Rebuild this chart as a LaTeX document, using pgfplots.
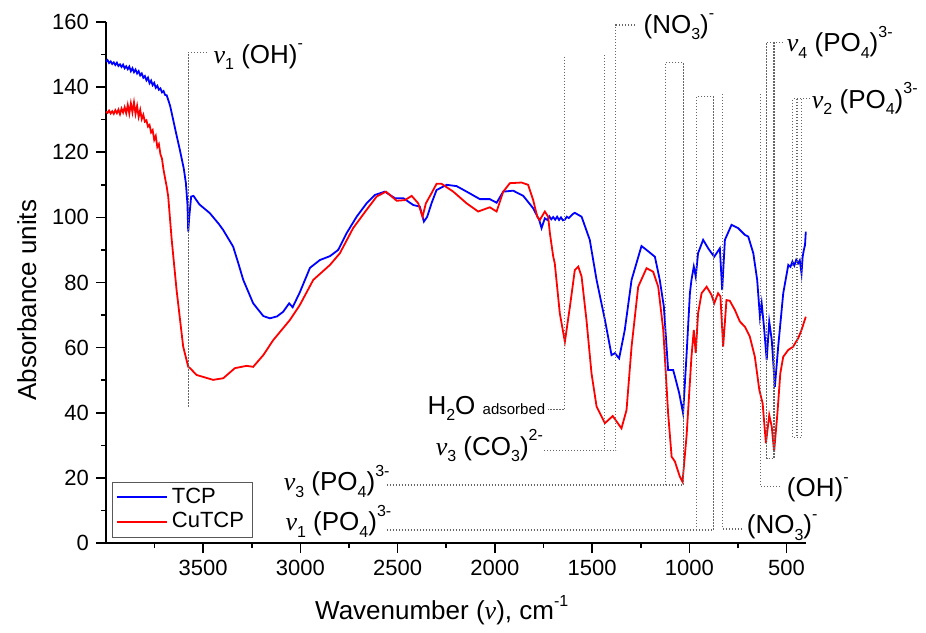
\documentclass[border=0pt]{standalone}
\usepackage{fontspec}
\setmainfont{Liberation Sans}
\newfontfamily\greekfont{Liberation Serif}
\usepackage{pgfplots}
\pgfplotsset{compat=1.18}
\newcommand{\nuu}{{\greekfont\itshape ν}}
\newcommand{\sub}[1]{\raisebox{-3.3pt}{\fontsize{8}{8}\selectfont #1}}
\newcommand{\sups}[1]{\raisebox{7.2pt}{\fontsize{8}{8}\selectfont #1}}
\begin{document}
\begin{tikzpicture}[anno/.style={font=\fontsize{13}{15}\selectfont, inner sep=0pt},
  dl/.style={dash pattern=on 0.6pt off 0.9pt, black!60, line width=0.6pt}]
\begin{axis}[name=ax,
  scale only axis, width=350pt, height=260.5pt,
  x dir=reverse, xmin=400, xmax=4000, ymin=0, ymax=160,
  axis x line*=bottom, axis y line*=left,
  axis line style={line width=0.9pt, -},
  xtick={500,1000,...,3500}, minor xtick={750,1250,...,3750},
  ytick={0,20,...,160}, minor ytick={10,30,...,150},
  tick align=outside, major tick length=5pt, minor tick length=2.5pt,
  tick style={line width=0.8pt, black},
  /pgf/number format/assume math mode=true,
  /pgf/number format/1000 sep={},
  ticklabel style={font=\fontsize{11}{13}\selectfont},
  xlabel={Wavenumber (\nuu), cm\raisebox{6.5pt}{\fontsize{8}{8}\selectfont -1}},
  ylabel={Absorbance units},
  xlabel style={font=\fontsize{13}{15}\selectfont, at={(axis description cs:0.4796,-0.1459)}, anchor=base},
  ylabel style={font=\fontsize{13}{15}\selectfont, at={(axis description cs:-0.0999,0.466)}, anchor=base},
  legend style={at={(0,0)}, anchor=south west, xshift=2.85pt, yshift=2.85pt, draw=black!65,
    font=\fontsize{11}{13}\selectfont, inner xsep=2pt, inner ysep=1pt, row sep=-1pt},
  legend cell align=left,
  legend image code/.code={\draw[mark repeat=2,mark phase=2,#1] plot coordinates {(0pt,0pt) (12.5pt,0pt) (25pt,0pt)};},
  clip=false,
]
\addlegendimage{blue, line width=0.9pt}
\addlegendentry{TCP}
\addlegendimage{red, line width=0.9pt}
\addlegendentry{CuTCP}
\addplot[blue, line width=0.9pt, forget plot] table {
4000 147.8
3992 148.3
3984 147.4
3976 147.9
3968 147.1
3960 147.6
3952 146.8
3944 147.5
3936 146.5
3928 147.0
3920 146.2
3912 146.9
3904 145.8
3896 146.4
3888 145.5
3880 146.3
3872 144.9
3864 145.8
3856 144.6
3848 145.4
3840 144.2
3832 144.9
3824 143.6
3816 144.2
3808 142.9
3800 143.4
3792 142.1
3784 142.9
3776 141.2
3768 142.0
3760 140.6
3752 141.3
3744 139.8
3736 140.4
3728 139.2
3720 139.6
3712 138.4
3704 138.8
3696 137.6
3688 137.5
3680 136.1
3670 134.2
3660 131.5
3640 126
3620 120.7
3600 115
3589 110.5
3581 104
3577 95.6
3572 100
3562 106.4
3550 106.6
3520 104
3466 101.3
3420 98
3397 96.1
3346 91.0
3320 86
3294 80.8
3243 73.6
3191 69.7
3157 69.0
3120 69.6
3089 71.0
3058 73.6
3040 72.4
3003 77
2951 84.5
2900 86.9
2848 88.1
2806 90.0
2763 95.1
2711 100.2
2660 104.3
2617 106.9
2566 107.9
2514 105.9
2471 105.9
2420 103.8
2386 103.3
2365 98.7
2348 100.2
2326 104.3
2300 108.4
2248 110.0
2197 109.6
2145 107.9
2077 105.6
2026 105.6
1991 104.5
1957 107.9
1906 108.2
1854 106.6
1803 102.8
1772 99.2
1760 96.7
1743 99.7
1730 99.2
1720 100.3
1710 99.4
1700 100.1
1690 99.3
1680 100.2
1670 99.2
1660 100.0
1650 99.1
1640 99.3
1630 100.2
1620 99.8
1610 100.4
1600 101.0
1589 101.4
1554 100.2
1512 93.1
1477 80.8
1434 68.5
1400 57.7
1383 58.3
1361 56.7
1332 65.4
1297 80.8
1246 91.2
1220 90.0
1177 87.9
1152 80.8
1131 72.6
1109 53.1
1083 53.1
1074 51.1
1052 46.0
1032 39.8
1014 58
997 76.7
989 80.8
977 84.9
967 81.8
955 89.0
929 93.1
903 90.5
872 87.9
843 90.5
831 77.7
817 93.1
783 97.7
749 96.7
714 94.6
697 94.1
671 89.0
651 80.8
637 69.5
628 73.6
616 66.4
602 56.2
589 68.0
576 62.3
560 48.0
543 60.3
517 76.7
491 85.4
480 84.8
470 86.4
460 85.2
450 87.0
440 85.9
432 86.8
423 82.8
417 88.0
411 90.0
405 91.5
401 95.6
};
\addplot[red, line width=0.9pt, forget plot] table {
4000 132.5
3992 132.1
3984 132.8
3976 131.9
3968 132.6
3960 131.8
3952 132.9
3944 132.0
3936 133.1
3928 131.7
3920 133.4
3912 132.2
3904 133.8
3896 132.0
3888 134.5
3880 131.9
3872 135.0
3864 132.3
3856 135.3
3848 131.8
3840 134.2
3832 130.9
3824 133.0
3816 130.2
3808 131.5
3800 129.4
3792 129.8
3784 127.9
3776 128.4
3768 126.1
3760 126.8
3752 123.8
3744 125.0
3736 121.6
3728 122.5
3720 119.4
3712 118.0
3704 114.6
3696 112.0
3688 109.5
3680 106.4
3662 93.1
3637 77.7
3611 64.4
3603 60.3
3577 54.1
3568 53.7
3534 51.6
3449 50.1
3397 50.6
3337 53.7
3277 54.4
3243 54.1
3191 57.7
3140 62.3
3054 68.5
3003 73.1
2934 80.8
2848 85.4
2797 89.0
2729 96.7
2660 102.3
2608 106.4
2560 107.9
2505 105.1
2463 105.3
2428 106.6
2394 104.3
2372 100.2
2355 104.3
2326 107.4
2300 110.3
2274 110.3
2214 107.9
2145 104.3
2086 101.8
2026 103.1
1991 101.8
1957 107.9
1923 110.5
1863 110.7
1829 110.0
1803 105.3
1782 100.2
1769 99.2
1743 101.8
1726 100.2
1717 95.1
1700 88
1692 85.9
1666 70.5
1640 61.8
1614 72.6
1589 83.8
1571 84.9
1554 81.8
1529 68.5
1503 52.1
1477 41.9
1434 36.8
1394 39.0
1349 35.2
1323 40.8
1297 60.3
1263 78.7
1220 84.4
1186 83.3
1160 78.7
1134 65.4
1109 39.8
1091 26.5
1074 25.0
1049 20.4
1035 18.8
1014 33
989 57.2
977 65.4
967 58.3
955 70.5
937 76.7
911 78.7
886 76.2
872 73.6
852 76.7
840 75.7
826 60.3
809 74.6
792 74.4
766 71.6
740 68.0
714 66.4
689 63.4
663 57.2
640 47.0
623 42.9
606 30.6
589 39.3
576 35.7
564 28.0
547 39.8
532 52.1
517 57.2
491 59.3
466 60.3
440 62.9
423 65.4
401 69.5
};
% annotation lines
\draw[dl] (axis cs:3577,41.9) -- (axis cs:3577,150.7) -- (axis cs:3474,150.7);
\draw[dl] (axis cs:1640,149.4) -- (axis cs:1640,41.1) -- (axis cs:1727,41.1);
\draw[dl] (axis cs:1438,149.9) -- (axis cs:1438,28.3);
\draw[dl] (axis cs:1280,159.1) -- (axis cs:1378,159.1) -- (axis cs:1378,28.3) -- (axis cs:1745,28.3);
\draw[dl] (axis cs:2557,17.8) -- (axis cs:1032,17.8) -- (axis cs:1032,147.6) -- (axis cs:1122,147.6) -- (axis cs:1122,17.8);
\draw[dl] (axis cs:2557,4.0) -- (axis cs:877,4.0) -- (axis cs:877,137.1) -- (axis cs:963,137.1) -- (axis cs:963,4.0);
\draw[dl] (axis cs:829,137.8) -- (axis cs:829,4.3) -- (axis cs:729,4.3);
\draw[dl] (axis cs:634,137.8) -- (axis cs:634,17.3) -- (axis cs:538,17.3);
\draw[dl] (axis cs:517,153.8) -- (axis cs:603,153.8) -- (axis cs:603,26.0) -- (axis cs:565,26.0) -- (axis cs:565,153.8);
\draw[dl] (axis cs:380,136.4) -- (axis cs:469,136.4) -- (axis cs:469,32.5) -- (axis cs:423,32.5) -- (axis cs:423,136.4);
\draw[dl] (axis cs:446,136.4) -- (axis cs:446,32.5);
% annotation labels
\node[anno, anchor=base west] at (axis cs:3448.6,147.3) {\nuu\sub{1} (OH)\sups{-}};
\node[anno, anchor=base west] at (axis cs:1237,156.5) {(NO\sub{3})\sups{-}};
\node[anno, anchor=base west] at (axis cs:500,150.9) {\nuu\sub{4} (PO\sub{4})\sups{3-}};
\node[anno, anchor=base west] at (axis cs:371.5,133.5) {\nuu\sub{2} (PO\sub{4})\sups{3-}};
\node[anno, anchor=base east] at (axis cs:1739,39.5) {H\sub{2}O {\fontsize{7.5}{9}\selectfont adsorbed}};
\node[anno, anchor=base east] at (axis cs:1751,27.0) {\nuu\sub{3} (CO\sub{3})\sups{2-}};
\node[anno, anchor=base east] at (axis cs:2540,16.1) {\nuu\sub{3} (PO\sub{4})\sups{3-}};
\node[anno, anchor=base east] at (axis cs:2531,3.8) {\nuu\sub{1} (PO\sub{4})\sups{3-}};
\node[anno, anchor=base west] at (axis cs:500,14.2) {(OH)\sups{-}};
\node[anno, anchor=base west] at (axis cs:705.8,2.8) {(NO\sub{3})\sups{-}};
\end{axis}
\pgfresetboundingbox
\path[use as bounding box] ([xshift=-53pt,yshift=-44.5pt]ax.south west) rectangle ([xshift=410pt,yshift=271.5pt]ax.south west);
\end{tikzpicture}
\end{document}
